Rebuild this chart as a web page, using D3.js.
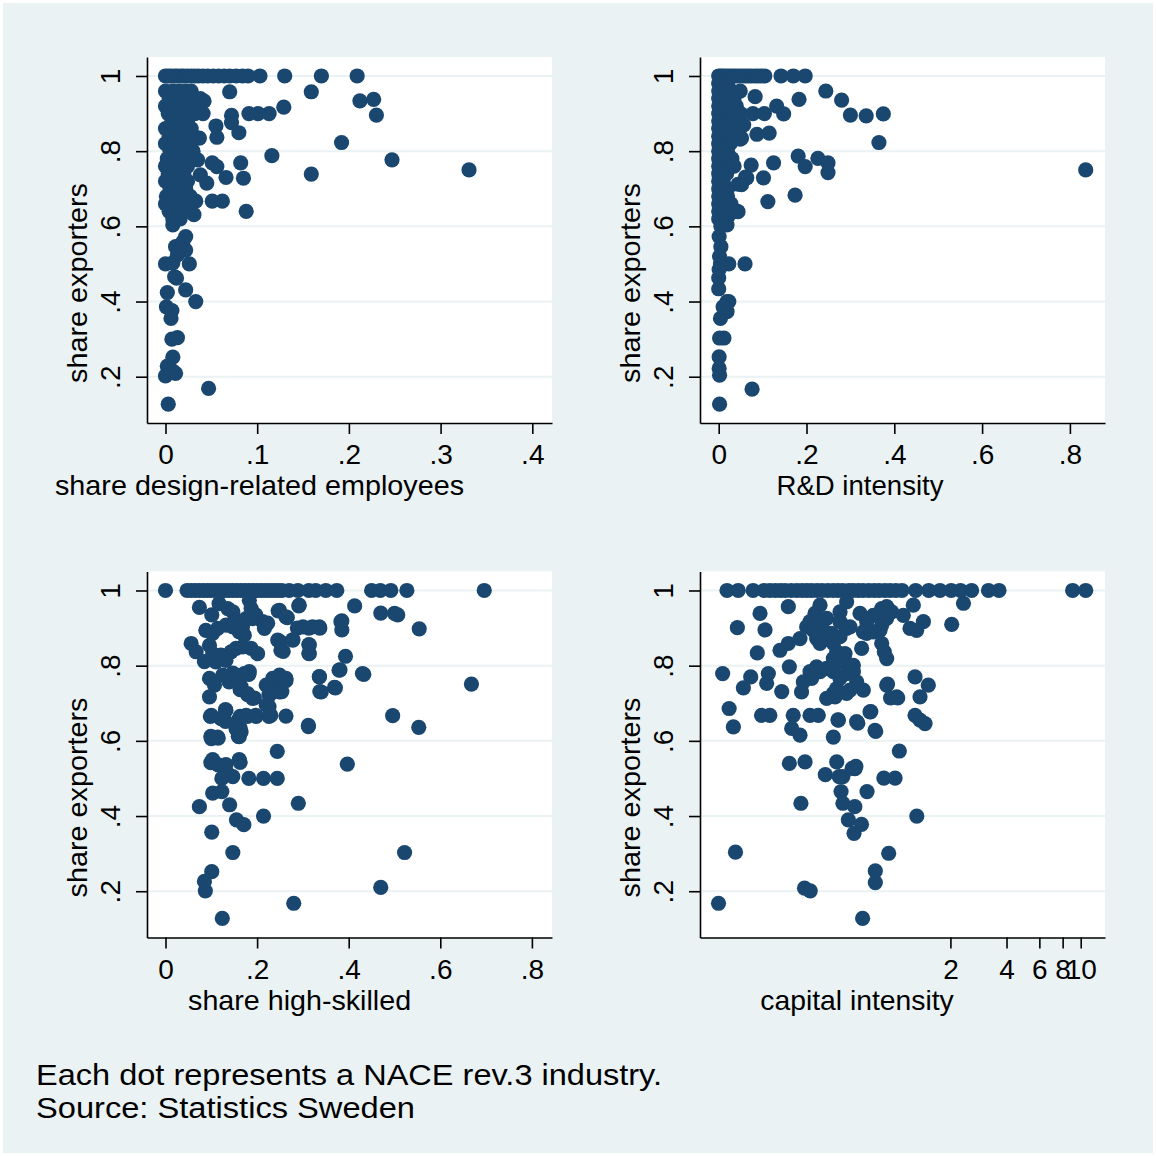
<!DOCTYPE html>
<html>
<head>
<meta charset="utf-8">
<script src="https://cdn.jsdelivr.net/npm/d3@7"></script>
<style>
body { margin: 0; background: #fff; }
</style>
</head>
<body>
<svg width="1156" height="1156"></svg>
<script>
// share exporters (y) against four industry characteristics

var yTicks = [0.2, 0.4, 0.6, 0.8, 1];
var designTicks = [0, 0.1, 0.2, 0.3, 0.4];
var rdTicks = [0, 0.2, 0.4, 0.6, 0.8];
var skillTicks = [0, 0.2, 0.4, 0.6, 0.8];
var capitalTicks = [2, 4, 6, 8, 10];

var yTitle = "share exporters";
var xTitles = ["share design-related employees", "R&D intensity", "share high-skilled", "capital intensity"];
var noteLines = ["Each dot represents a NACE rev.3 industry.", "Source: Statistics Sweden"];

var designPts = [
  [0,1],[0.003,1],[0.006,1],[0.01,1],[0.013,1],[0.017,1],[0.02,1],[0.024,1],[0.028,1],[0.032,1],[0.036,1],[0.041,1],
  [0.046,1],[0.052,1],[0.058,1],[0.064,1],[0.07,1],[0.077,1],[0.084,1],[0.09,1],[0.103,1],[0.13,1],[0.17,1],[0.209,1],
  [0.07,0.958],[0.159,0.958],[0.212,0.934],[0.227,0.938],[0.23,0.896],[0.129,0.917],[0.113,0.9],[0.101,0.9],[0.091,0.9],
  [0.072,0.895],[0.072,0.876],[0.08,0.849],[0.055,0.867],[0.056,0.837],[0.035,0.835],[0.192,0.823],[0.116,0.788],
  [0.247,0.777],[0.331,0.75],[0.159,0.739],[0.082,0.769],[0.085,0.728],[0.066,0.73],[0.051,0.769],[0.056,0.759],
  [0.035,0.777],[0.038,0.737],[0.045,0.715],[0.051,0.667],[0.062,0.667],[0.088,0.64],[0.033,0.667],[0.031,0.631],
  [0.042,0.933],[0.041,0.9],[0.032,0.9],[0.037,0.835],
  [0,0.96],[0.008,0.96],[0.015,0.96],[0.022,0.96],[0.028,0.96],
  [0.004,0.94],[0.012,0.94],[0.02,0.94],[0.03,0.94],[0.038,0.94],
  [0,0.92],[0.01,0.92],[0.018,0.92],[0.026,0.92],[0.034,0.92],
  [0.003,0.9],[0.012,0.9],[0.02,0.9],[0.028,0.9],
  [0.007,0.88],[0.016,0.88],[0.024,0.88],
  [0,0.86],[0.01,0.86],[0.018,0.86],[0.028,0.86],
  [0.004,0.84],[0.013,0.84],[0.022,0.84],[0.03,0.84],
  [0,0.82],[0.009,0.82],[0.017,0.82],[0.026,0.82],
  [0.005,0.8],[0.014,0.8],[0.022,0.8],[0.03,0.8],
  [0.002,0.78],[0.011,0.78],[0.02,0.78],[0.028,0.78],
  [0,0.76],[0.009,0.76],[0.016,0.76],[0.024,0.76],
  [0.003,0.74],[0.012,0.74],[0.02,0.74],
  [0,0.72],[0.008,0.72],[0.016,0.72],[0.024,0.72],
  [0.005,0.7],[0.014,0.7],[0.022,0.7],
  [0.001,0.68],[0.01,0.68],[0.018,0.68],[0.027,0.68],
  [0,0.66],[0.007,0.66],[0.015,0.66],[0.024,0.66],
  [0.004,0.64],[0.012,0.64],[0.021,0.64],
  [0.008,0.62],[0.016,0.62],
  [0.008,0.604],[0.022,0.573],[0.015,0.534],[0.011,0.546],[0.019,0.559],[0.022,0.537],[0.013,0.524],[0,0.5],
  [0.008,0.503],[0.026,0.5],[0.01,0.466],[0.012,0.462],[0.002,0.424],[0.022,0.431],[0.033,0.4],[0.001,0.386],
  [0.007,0.376],[0.006,0.355],[0.007,0.3],[0.013,0.304],[0.008,0.252],[0.002,0.228],[0.008,0.215],[0,0.202],
  [0.011,0.209],[0.047,0.169],[0.003,0.127]
];

var rdPts = [
  [0,1],[0.005,1],[0.01,1],[0.016,1],[0.022,1],[0.028,1],[0.034,1],[0.04,1],[0.047,1],[0.054,1],[0.061,1],[0.068,1],
  [0.075,1],[0.083,1],[0.09,1],[0.097,1],[0.105,1],[0.142,1],[0.17,1],[0.197,1],
  [0.244,0.96],[0.28,0.936],[0.3,0.896],[0.336,0.894],[0.375,0.899],[0.365,0.823],[0.836,0.75],[0.183,0.938],
  [0.083,0.945],[0.049,0.96],[0.132,0.92],[0.148,0.899],[0.104,0.9],[0.078,0.9],[0.115,0.848],[0.087,0.845],
  [0.057,0.87],[0.049,0.832],[0.181,0.787],[0.197,0.759],[0.226,0.781],[0.249,0.769],[0.249,0.743],[0.125,0.769],
  [0.074,0.763],[0.102,0.729],[0.061,0.731],[0.044,0.712],[0.174,0.683],[0.112,0.666],[0.044,0.639],[0.023,0.63],
  [0.019,0.604],[0.06,0.5],[0.023,0.5],[0.019,0.4],[0.019,0.373],[0.076,0.167],[0.002,0.127],[0.002,0.303],
  [0.012,0.303],[0.001,0.253],[0.001,0.222],[0.002,0.204],[0.004,0.355],[0,0.463],[0,0.434],[0.001,0.573],
  [0.005,0.546],[0.023,0.4],[0.01,0.386],[0.052,0.835],[0.064,0.729],[0.052,0.711],[0.041,0.64],
  [0,0.98],[0.01,0.98],[0.02,0.98],
  [0,0.96],[0.008,0.96],[0.018,0.96],[0.03,0.96],
  [0,0.94],[0.01,0.94],[0.02,0.94],[0.035,0.94],
  [0,0.92],[0.008,0.92],[0.018,0.92],[0.03,0.92],[0.04,0.92],
  [0,0.9],[0.01,0.9],[0.022,0.9],[0.035,0.9],[0.05,0.9],
  [0,0.88],[0.008,0.88],[0.018,0.88],[0.03,0.88],
  [0,0.86],[0.01,0.86],[0.02,0.86],[0.032,0.86],
  [0,0.84],[0.008,0.84],[0.02,0.84],
  [0,0.82],[0.006,0.82],[0.016,0.82],[0.026,0.82],
  [0,0.8],[0.01,0.8],[0.02,0.8],
  [0,0.78],[0.008,0.78],[0.018,0.78],[0.03,0.78],
  [0,0.76],[0.01,0.76],[0.022,0.76],[0.035,0.76],
  [0,0.74],[0.008,0.74],[0.018,0.74],
  [0,0.72],[0.01,0.72],
  [0,0.7],[0.008,0.7],[0.02,0.7],
  [0,0.68],[0.01,0.68],[0.02,0.68],
  [0,0.66],[0.006,0.66],[0.016,0.66],[0.028,0.66],
  [0,0.64],[0.01,0.64],
  [0,0.62],[0.008,0.62],[0.005,0.6],
  [0.002,0.52],[0.004,0.5],[0.001,0.485]
];

var skillPts = [
  [0,1],[0.047,1],[0.056,1],[0.065,1],[0.074,1],[0.083,1],[0.092,1],[0.101,1],[0.11,1],[0.119,1],[0.128,1],[0.137,1],
  [0.146,1],[0.155,1],[0.164,1],[0.173,1],[0.182,1],[0.191,1],[0.2,1],[0.209,1],[0.218,1],[0.227,1],[0.236,1],[0.245,1],
  [0.254,1],[0.27,1],[0.289,1],[0.313,1],[0.328,1],[0.35,1],[0.374,1],[0.45,1],[0.469,1],[0.492,1],[0.527,1],[0.696,1],
  [0.074,0.955],[0.291,0.959],[0.413,0.959],[0.47,0.94],[0.507,0.935],[0.554,0.898],[0.385,0.919],[0.385,0.895],
  [0.288,0.9],[0.313,0.9],[0.337,0.9],[0.266,0.928],[0.246,0.946],[0.278,0.869],[0.25,0.864],[0.257,0.838],
  [0.313,0.856],[0.313,0.833],[0.393,0.825],[0.381,0.789],[0.433,0.777],[0.668,0.751],[0.336,0.771],[0.337,0.731],
  [0.369,0.742],[0.496,0.667],[0.553,0.636],[0.312,0.638],[0.263,0.666],[0.263,0.76],[0.25,0.731],[0.244,0.572],
  [0.397,0.538],[0.163,0.543],[0.182,0.5],[0.214,0.5],[0.244,0.5],[0.29,0.434],[0.214,0.4],[0.14,0.43],
  [0.155,0.39],[0.171,0.377],[0.074,0.425],[0.101,0.357],[0.147,0.303],[0.522,0.303],[0.101,0.252],[0.085,0.226],
  [0.087,0.201],[0.47,0.21],[0.28,0.168],[0.124,0.128],[0.099,0.612],[0.115,0.607],[0.099,0.542],[0.115,0.536],
  [0.135,0.514],[0.147,0.505],[0.123,0.5],[0.103,0.461],[0.123,0.465],[0.098,0.665],[0.131,0.683],[0.131,0.652],
  [0.163,0.665],[0.163,0.634],[0.159,0.612],[0.179,0.665],[0.198,0.665],[0.226,0.665],[0.226,0.691],[0.226,0.723],
  [0.254,0.731],[0.234,0.74],[0.25,0.76],[0.194,0.714],[0.179,0.723],[0.163,0.736],[0.182,0.777],[0.163,0.771],
  [0.147,0.78],[0.101,0.935],[0.117,0.965],[0.136,0.952],[0.147,0.943],[0.183,0.974],[0.187,0.952],[0.197,0.935],
  [0.212,0.917],[0.223,0.913],[0.249,0.947],[0.263,0.93],[0.292,0.961],[0.5,0.939],
  [0.088,0.894],[0.103,0.886],[0.114,0.899],[0.132,0.908],[0.147,0.903],[0.161,0.89],[0.172,0.881],[0.168,0.903],
  [0.154,0.917],[0.176,0.925],[0.19,0.925],[0.216,0.899],[0.3,0.903],[0.321,0.903],[0.336,0.903],[0.383,0.917],
  [0.245,0.868],[0.252,0.841],[0.278,0.868],[0.314,0.855],[0.314,0.832],[0.379,0.788],[0.43,0.779],[0.336,0.77],
  [0.34,0.73],[0.371,0.741],[0.056,0.859],[0.067,0.837],[0.085,0.811],[0.096,0.854],[0.103,0.832],[0.11,0.81],
  [0.121,0.828],[0.132,0.814],[0.143,0.837],[0.154,0.846],[0.168,0.85],[0.187,0.846],[0.201,0.832],
  [0.096,0.766],[0.107,0.748],[0.096,0.717],[0.125,0.775],[0.139,0.757],[0.154,0.775],[0.172,0.779],[0.183,0.784],
  [0.165,0.744],[0.179,0.726],[0.19,0.713],[0.22,0.748],[0.234,0.766],[0.249,0.775],[0.263,0.766],[0.227,0.722],
  [0.249,0.73],[0.22,0.695],[0.23,0.668],[0.197,0.668],[0.176,0.668],[0.161,0.659],[0.132,0.681],[0.121,0.659],
  [0.1,0.668],[0.154,0.632],[0.165,0.624],[0.161,0.611],[0.1,0.606],[0.114,0.61],[0.312,0.641],[0.103,0.55],
  [0.132,0.537],[0.161,0.55]
];

var capitalPts = [
  [0.1266,1],[0.1454,1],[0.1748,1],[0.2,1],[0.215,1],[0.23,1],[0.245,1],[0.26,1],[0.28,1],[0.3,1],[0.32,1],[0.34,1],
  [0.36,1],[0.385,1],[0.41,1],[0.44,1],[0.47,1],[0.5,1],[0.53,1],[0.57,1],[0.6,1],[0.64,1],[0.68,1],[0.73,1],[0.78,1],
  [0.83,1],[0.89,1],[0.95,1],[1.02,1],[1.1,1],[1.302,1],[1.53,1],[1.759,1],[2.02,1],[2.265,1],[2.6,1],[3.2,1],
  [3.645,1],[9.05,1],[10.64,1],
  [0.27,0.957],[0.1904,0.939],[0.1439,0.901],[0.2025,0.895],[0.1841,0.834],[0.12,0.779],[0.1697,0.77],[0.155,0.741],
  [0.211,0.779],[0.2066,0.753],[0.249,0.731],[0.13,0.686],[0.137,0.637],[0.194,0.668],[0.215,0.668],[0.2735,0.797],
  [0.2437,0.841],[0.27,0.859],[0.312,0.872],[0.287,0.668],[0.2815,0.633],[0.312,0.615],[0.353,0.668],[0.391,0.668],
  [0.325,0.757],[0.318,0.73],[0.353,0.784],[0.383,0.797],
  [0.3995,0.961],[0.3755,0.939],[0.353,0.917],[0.3388,0.903],[0.368,0.894],[0.3995,0.917],[0.4337,0.926],
  [0.4249,0.89],[0.3834,0.872],[0.3995,0.859],[0.4337,0.872],[0.4613,0.886],
  [0.5114,0.943],[0.555,0.97],[0.5114,0.917],[0.555,0.899],[0.5785,0.903],[0.5114,0.877],[0.471,0.859],
  [0.491,0.837],[0.5438,0.832],[0.555,0.806],[0.6031,0.801],[0.5114,0.8103],[0.471,0.819],[0.4337,0.793],
  [0.3995,0.784],[0.3602,0.766],[0.471,0.784],[0.5114,0.766],[0.555,0.779],[0.6031,0.784],[0.6284,0.757],
  [0.6823,0.735],[0.5785,0.735],[0.555,0.726],[0.491,0.739],[0.471,0.726],[0.4337,0.713],[0.481,0.717],
  [0.6547,0.939],[0.711,0.917],[0.7722,0.934],[0.8558,0.952],[0.9104,0.957],[0.968,0.943],[0.9104,0.926],
  [0.8558,0.908],[0.838,0.894],[0.7722,0.89],[0.711,0.886],[0.6823,0.89],
  [1.118,0.934],[1.265,0.961],[1.432,0.917],[1.214,0.899],[1.318,0.894],[2.032,0.91],[2.35,0.966],
  [0.8558,0.859],[0.884,0.837],[0.9104,0.819],[0.668,0.846],[0.741,0.677],[0.628,0.651],[0.788,0.628],
  [0.9104,0.748],[1.03,0.717],[1.292,0.77],[1.522,0.748],[1.374,0.717],[1.462,0.646],[1.292,0.668],[1.374,0.655],
  [1.064,0.573],[0.501,0.655],[0.471,0.61],[0.2735,0.54],[0.332,0.544],[0.491,0.544],[0.6157,0.526],
  [0.92,0.751],[0.955,0.714],[1.043,0.714],
  [0.114,0.168],[0.1406,0.304],[0.3155,0.434],[0.33,0.208],[0.354,0.201],[0.4266,0.51],[0.506,0.505],[0.53,0.505],
  [0.594,0.527],[0.622,0.532],[0.518,0.465],[0.53,0.434],[0.614,0.425],[0.567,0.39],[0.608,0.354],[0.667,0.378],
  [0.714,0.465],[0.795,0.625],[0.791,0.254],[0.791,0.223],[0.676,0.128],[0.933,0.301],[0.879,0.501],[1.01,0.501],
  [1.32,0.4],[0.499,0.656],[0.637,0.647],[0.748,0.678]
];

var bg = "#eaf2f3", navy = "#1a476f";
var font = "'Liberation Sans', Arial, Helvetica, sans-serif";
var plotW = 405, plotH = 366;

var svg = d3.select("svg");
svg.append("rect").attr("x", 3).attr("y", 3).attr("width", 1150).attr("height", 1150).attr("fill", bg);

var fmt = function (d) { return String(d).replace(/^0\./, "."); };

var y = d3.scaleLinear().domain([0.0769, 1.0505]).range([plotH, 0]);

var panels = [
  { left: 147, top: 57, data: designPts, ticks: designTicks, title: xTitles[0], tx: 259.5, tw: 409,
    x: d3.scaleLinear().domain([-0.02017, 0.42149]) },
  { left: 700, top: 57, data: rdPts, ticks: rdTicks, title: xTitles[1], tx: 860, tw: 167,
    x: d3.scaleLinear().domain([-0.0426, 0.87995]) },
  { left: 147, top: 571.5, data: skillPts, ticks: skillTicks, title: xTitles[2], tx: 299.6, tw: 223,
    x: d3.scaleLinear().domain([-0.0404, 0.8439]) },
  { left: 700, top: 571.5, data: capitalPts, ticks: capitalTicks, title: xTitles[3], tx: 857, tw: 193.5,
    x: d3.scaleLog().domain([0.09071, 13.50]) }
];

panels.forEach(function (p) {
  p.x.range([0, plotW]);
  var g = svg.append("g").attr("transform", "translate(" + p.left + "," + p.top + ")");

  g.append("rect").attr("width", plotW).attr("height", plotH).attr("fill", "#fff");

  g.selectAll(".grid").data(yTicks).enter().append("line")
    .attr("x1", 0).attr("x2", plotW)
    .attr("y1", function (d) { return y(d); }).attr("y2", function (d) { return y(d); })
    .attr("stroke", bg).attr("stroke-width", 2);

  var xa = g.append("g").attr("transform", "translate(0," + plotH + ")")
    .call(d3.axisBottom(p.x).tickValues(p.ticks).tickSize(11).tickSizeOuter(0).tickFormat(fmt));
  xa.selectAll("text").attr("y", 41).attr("dy", null);

  var ya = g.append("g")
    .call(d3.axisLeft(y).tickValues(yTicks).tickSize(11).tickSizeOuter(0).tickFormat(fmt));
  ya.selectAll("text").attr("x", null).attr("dy", null).attr("text-anchor", "middle")
    .attr("transform", "translate(-27,0) rotate(-90)");

  [xa, ya].forEach(function (a) {
    a.selectAll("path, line").attr("stroke", "#000").attr("stroke-width", 1.6);
    a.selectAll("text").attr("fill", "#000").style("font-family", font).style("font-size", "28px");
  });

  g.selectAll("circle").data(p.data).enter().append("circle")
    .attr("cx", function (d) { return p.x(d[0]); })
    .attr("cy", function (d) { return y(d[1]); })
    .attr("r", 7.6)
    .attr("fill", navy);

  svg.append("text").attr("x", p.tx).attr("y", p.top + plotH + 72)
    .attr("text-anchor", "middle").attr("textLength", p.tw).attr("lengthAdjust", "spacingAndGlyphs")
    .style("font-family", font).style("font-size", "28px").attr("fill", "#000").text(p.title);

  svg.append("text")
    .attr("transform", "translate(" + (p.left - 60) + "," + (p.top + 226) + ") rotate(-90)")
    .attr("text-anchor", "middle").attr("textLength", 200).attr("lengthAdjust", "spacingAndGlyphs")
    .style("font-family", font).style("font-size", "28px").attr("fill", "#000").text(yTitle);
});

svg.selectAll(".note").data(noteLines).enter().append("text")
  .attr("x", 36).attr("y", function (d, i) { return 1085 + i * 32.5; })
  .attr("textLength", function (d, i) { return i === 0 ? 626 : 379; })
  .attr("lengthAdjust", "spacingAndGlyphs")
  .style("font-family", font).style("font-size", "30px").attr("fill", "#000")
  .text(function (d) { return d; });
</script>
</body>
</html>
